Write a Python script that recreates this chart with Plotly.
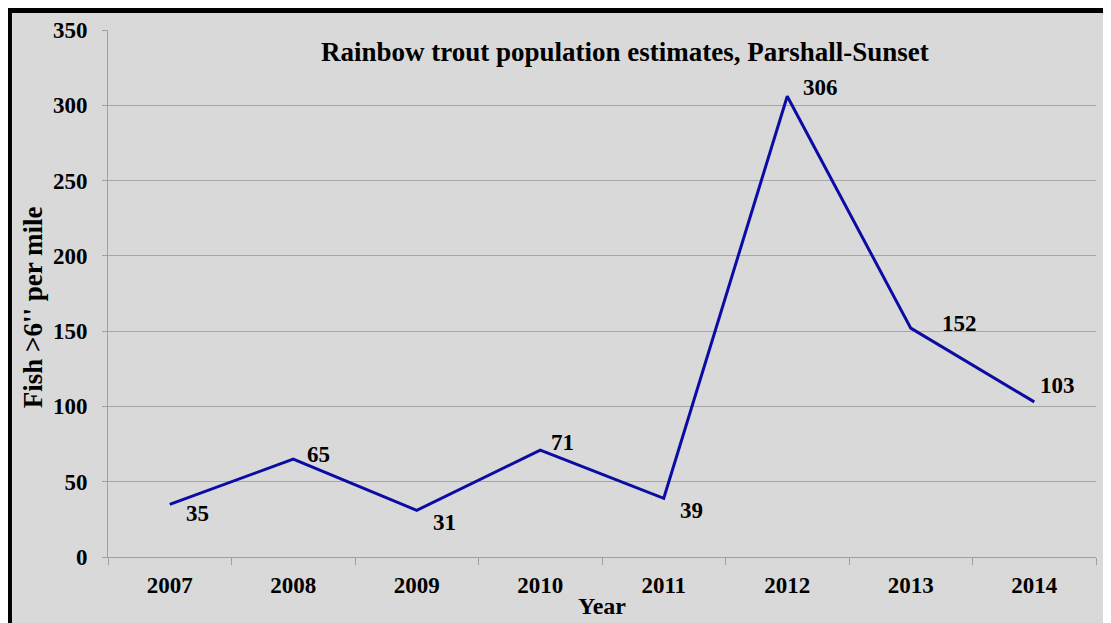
import plotly.graph_objects as go

years = ["2007", "2008", "2009", "2010", "2011", "2012", "2013", "2014"]
fish_per_mile = [35, 65, 31, 71, 39, 306, 152, 103]
# label offsets (pixels) relative to each point
label_dx = [28, 25, 28, 22, 28, 33, 49, 23]
label_dy = [-9, 5, -12, 8, -12, 9, 5, 16]
y_ticks = [0, 50, 100, 150, 200, 250, 300, 350]

FONT = "Liberation Serif"
fs = 23

fig = go.Figure()
fig.add_trace(go.Scatter(
    x=years, y=fish_per_mile, mode="lines",
    line=dict(color="#0c0ca4", width=3), hoverinfo="skip", showlegend=False,
))

for i, (v, dx, dy) in enumerate(zip(fish_per_mile, label_dx, label_dy)):
    fig.add_annotation(x=i, y=v, text=str(v), showarrow=False,
                       xanchor="center", yanchor="middle", xshift=dx, yshift=dy,
                       font=dict(family=FONT, size=fs, color="black", weight=700))

fig.add_annotation(xref="paper", yref="paper", x=0.523, y=0.958,
                   text="Rainbow trout population estimates, Parshall-Sunset",
                   showarrow=False, xanchor="center", yanchor="middle",
                   font=dict(family=FONT, size=27, color="black", weight=700))

# y-axis title
fig.add_annotation(xref="paper", yref="paper", x=-0.0759, y=0.474,
                   text="Fish >6'' per mile", textangle=-90,
                   showarrow=False, xanchor="center", yanchor="middle",
                   font=dict(family=FONT, size=27, color="black", weight=700))

# gray background inside black frame (frame visible at top/left)
fig.add_shape(type="rect", xref="paper", yref="paper", layer="below",
              x0=-0.0972, x1=1.2, y0=-0.3, y1=1.0323,
              fillcolor="#d9d9d9", line=dict(width=0))

fig.update_layout(
    width=1103, height=615,
    margin=dict(l=100, r=15, t=22, b=66),
    paper_bgcolor="black", plot_bgcolor="rgba(0,0,0,0)",
    font=dict(family=FONT, size=fs, color="black"),
)
fig.update_xaxes(
    type="category", range=[-0.5, 7.5], showgrid=False, automargin=False,
    showline=True, linecolor="#a0a0a0", linewidth=1,
    ticks="outside", tickson="boundaries", ticklen=7, tickcolor="#a0a0a0",
    tickfont=dict(family=FONT, size=fs, weight=700),
    ticklabelstandoff=7,
    title=dict(text="Year", font=dict(family=FONT, size=24, weight=700), standoff=0),
)
fig.update_yaxes(
    range=[0, 350], tickvals=y_ticks, showgrid=True, gridcolor="#a6a6a6",
    showline=True, linecolor="#a0a0a0", linewidth=1, zeroline=False, automargin=False,
    ticks="outside", ticklen=5, tickcolor="#a0a0a0",
    tickfont=dict(family=FONT, size=fs, weight=700),
    ticklabelstandoff=10,
)

fig.write_html("out.html")
